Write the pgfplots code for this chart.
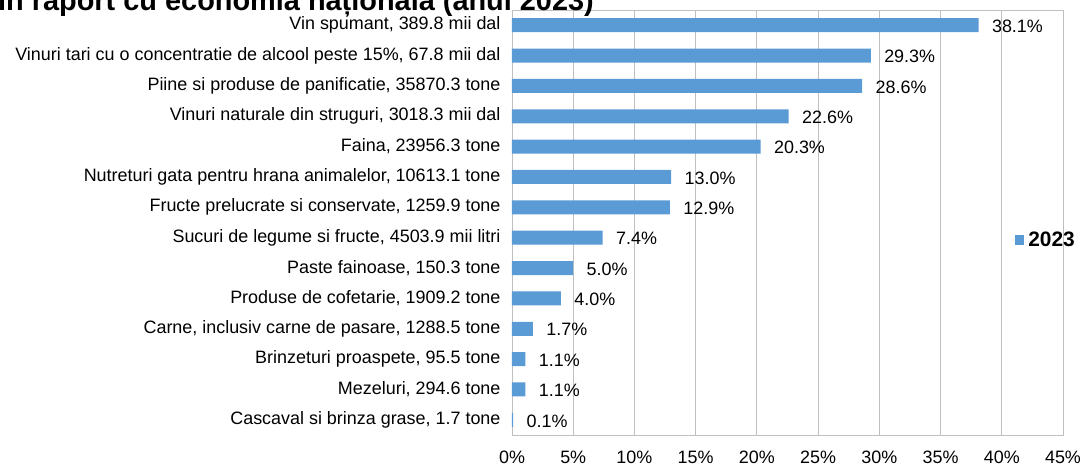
\documentclass[border=0pt]{standalone}
\usepackage{fontspec}
\setmainfont{Liberation Sans}
\usepackage{pgfplots}
\pgfplotsset{compat=1.18}
\usetikzlibrary{calc}
\definecolor{barblue}{HTML}{5B9BD5}
\definecolor{gridgray}{HTML}{BFBFBF}
\begin{document}
\begin{tikzpicture}
\begin{axis}[
  name=ax,
  xbar,
  scale only axis,
  width=551bp, height=425bp,
  xmin=0, xmax=45,
  ymin=-0.5, ymax=13.5,
  y dir=reverse,
  ytick={0,...,13},
  yticklabels={
    {Vin spumant, 389.8 mii dal},
    {Vinuri tari cu o concentratie de alcool peste 15\%, 67.8 mii dal},
    {Piine si produse de panificatie, 35870.3 tone},
    {Vinuri naturale din struguri, 3018.3 mii dal},
    {Faina, 23956.3 tone},
    {Nutreturi gata pentru hrana animalelor, 10613.1 tone},
    {Fructe prelucrate si conservate, 1259.9 tone},
    {Sucuri de legume si fructe, 4503.9 mii litri},
    {Paste fainoase, 150.3 tone},
    {Produse de cofetarie, 1909.2 tone},
    {Carne, inclusiv carne de pasare, 1288.5 tone},
    {Brinzeturi proaspete, 95.5 tone},
    {Mezeluri, 294.6 tone},
    {Cascaval si brinza grase, 1.7 tone}
  },
  xtick={0,5,...,45},
  xticklabels={0\%,5\%,10\%,15\%,20\%,25\%,30\%,35\%,40\%,45\%},
  xmajorgrids,
  major grid style={gridgray, line width=0.8bp},
  axis line style={gridgray, line width=0.8bp},
  major tick length=0pt,
  bar width=14bp,
  tick label style={font=\fontsize{18}{21}\selectfont, text=black},
  yticklabel style={xshift=-8bp},
  xticklabel style={anchor=base, text height=13bp, text depth=4bp, yshift=-28bp},
  nodes near coords={\pgfmathprintnumber[fixed,fixed zerofill,precision=1,assume math mode=true]{\pgfplotspointmeta}\%},
  nodes near coords style={font=\fontsize{18}{21}\selectfont, anchor=west, xshift=10bp, yshift=-1bp, text=black},
  legend style={at={(0.913,0.46)}, anchor=west, draw=none, fill=none,
    font=\bfseries\fontsize{21}{24}\selectfont, inner sep=0pt},
  legend image code/.code={\fill[barblue] (0bp,-5bp) rectangle (9bp,5bp);},
  legend cell align=left,
]
\addplot[fill=barblue, draw=none] coordinates {
  (38.1,0) (29.3,1) (28.6,2) (22.6,3) (20.3,4) (13.0,5) (12.9,6)
  (7.4,7) (5.0,8) (4.0,9) (1.7,10) (1.1,11) (1.1,12) (0.1,13)
};
\addlegendentry{\hspace{2bp}2023}
\end{axis}
\node[anchor=base west, inner sep=0pt, font=\bfseries\fontsize{29}{34}\selectfont]
  at ($(ax.north west)+(-514bp,-0.5bp)$) {în raport cu economia națională (anul 2023)};
\pgfresetboundingbox
\path ($(ax.south west)+(-512bp,-31bp)$) rectangle ++(1088bp,466bp);
\end{tikzpicture}
\end{document}
